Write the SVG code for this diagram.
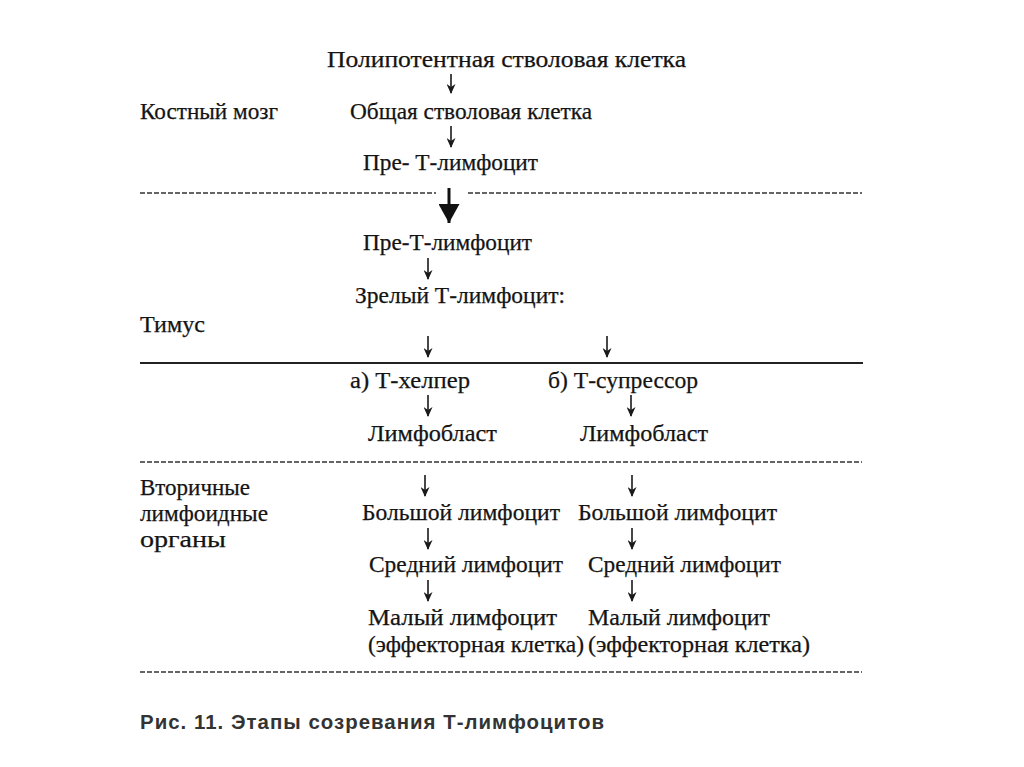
<svg xmlns="http://www.w3.org/2000/svg" width="1024" height="767" viewBox="0 0 1024 767">
<defs>
<style>
.t{font-family:"Liberation Serif","Times New Roman",serif;font-size:23px;fill:#141414;stroke:#141414;stroke-width:0.25}
.cap{font-family:"Liberation Sans",Arial,sans-serif;font-size:20px;font-weight:bold;fill:#333;letter-spacing:1px}
.dash{stroke:#333;stroke-width:1.6;stroke-dasharray:5 2;fill:none}
.solid{stroke:#222;stroke-width:2;fill:none}
.arr{stroke:#1a1a1a;stroke-width:1.6;fill:none;marker-end:url(#ah)}
</style>
<marker id="ah" viewBox="0 0 10 10" refX="9" refY="5" markerWidth="10" markerHeight="9" markerUnits="userSpaceOnUse" orient="auto" preserveAspectRatio="none">
<path d="M0,0 L10,5 L0,10 L3,5 Z" fill="#1a1a1a"/>
</marker>
<marker id="ahb" viewBox="0 0 10 10" refX="10" refY="5" markerWidth="19" markerHeight="21" markerUnits="userSpaceOnUse" orient="auto" preserveAspectRatio="none">
<path d="M0,0 L10,5 L0,10 Z" fill="#111"/>
</marker>
</defs>
<rect width="1024" height="767" fill="#ffffff"/>

<g id="lines">
<path class="dash" d="M140,193 H436 M468,193 H862"/>
<path class="solid" d="M140,363 H863"/>
<path class="dash" d="M140,462 H862"/>
<path class="dash" d="M140,672 H862"/>
</g>

<g id="zones">
<text class="t" x="140" y="119" textLength="138" lengthAdjust="spacingAndGlyphs">Костный мозг</text>
<text class="t" x="140" y="332" textLength="65" lengthAdjust="spacingAndGlyphs">Тимус</text>
<text class="t" x="140" y="495" textLength="110" lengthAdjust="spacingAndGlyphs">Вторичные</text>
<text class="t" x="140" y="521" textLength="128" lengthAdjust="spacingAndGlyphs">лимфоидные</text>
<text class="t" x="140" y="547" textLength="86" lengthAdjust="spacingAndGlyphs">органы</text>
</g>

<g id="n1"><text class="t" x="327" y="67" textLength="359" lengthAdjust="spacingAndGlyphs">Полипотентная стволовая клетка</text></g>
<g id="n2"><text class="t" x="350" y="119" textLength="242" lengthAdjust="spacingAndGlyphs">Общая стволовая клетка</text></g>
<g id="n3"><text class="t" x="363" y="170" textLength="175" lengthAdjust="spacingAndGlyphs">Пре- Т-лимфоцит</text></g>
<g id="n4"><text class="t" x="363" y="250" textLength="169" lengthAdjust="spacingAndGlyphs">Пре-Т-лимфоцит</text></g>
<g id="n5"><text class="t" x="355" y="303" textLength="210" lengthAdjust="spacingAndGlyphs">Зрелый Т-лимфоцит:</text></g>
<g id="n6a"><text class="t" x="350" y="388" textLength="120" lengthAdjust="spacingAndGlyphs">а) Т-хелпер</text></g>
<g id="n6b"><text class="t" x="548" y="388" textLength="150" lengthAdjust="spacingAndGlyphs">б) Т-супрессор</text></g>
<g id="n7a"><text class="t" x="368" y="441" textLength="129" lengthAdjust="spacingAndGlyphs">Лимфобласт</text></g>
<g id="n7b"><text class="t" x="580" y="441" textLength="128" lengthAdjust="spacingAndGlyphs">Лимфобласт</text></g>
<g id="n8a"><text class="t" x="362" y="520" textLength="198" lengthAdjust="spacingAndGlyphs">Большой лимфоцит</text></g>
<g id="n8b"><text class="t" x="578" y="520" textLength="199" lengthAdjust="spacingAndGlyphs">Большой лимфоцит</text></g>
<g id="n9a"><text class="t" x="369" y="572" textLength="194" lengthAdjust="spacingAndGlyphs">Средний лимфоцит</text></g>
<g id="n9b"><text class="t" x="588" y="572" textLength="193" lengthAdjust="spacingAndGlyphs">Средний лимфоцит</text></g>
<g id="n10a"><text class="t" x="368" y="625" textLength="189" lengthAdjust="spacingAndGlyphs">Малый лимфоцит</text><text class="t" x="368" y="652" textLength="216" lengthAdjust="spacingAndGlyphs">(эффекторная клетка)</text></g>
<g id="n10b"><text class="t" x="588" y="625" textLength="182" lengthAdjust="spacingAndGlyphs">Малый лимфоцит</text><text class="t" x="588" y="652" textLength="222" lengthAdjust="spacingAndGlyphs">(эффекторная клетка)</text></g>

<g id="connectors">
<line class="arr" x1="451" y1="74" x2="451" y2="93"/>
<line class="arr" x1="451" y1="126" x2="451" y2="147"/>
<line x1="449" y1="188" x2="449" y2="223" stroke="#111" stroke-width="3" marker-end="url(#ahb)"/>
<line class="arr" x1="428" y1="258" x2="428" y2="279"/>
<line class="arr" x1="428" y1="336" x2="428" y2="357"/>
<line class="arr" x1="607" y1="336" x2="607" y2="357"/>
<line class="arr" x1="428" y1="395" x2="428" y2="416"/>
<line class="arr" x1="631" y1="395" x2="631" y2="416"/>
<line class="arr" x1="425" y1="475" x2="425" y2="496"/>
<line class="arr" x1="632" y1="475" x2="632" y2="496"/>
<line class="arr" x1="428" y1="528" x2="428" y2="549"/>
<line class="arr" x1="632" y1="528" x2="632" y2="549"/>
<line class="arr" x1="428" y1="580" x2="428" y2="601"/>
<line class="arr" x1="632" y1="580" x2="632" y2="601"/>
</g>

<g id="caption"><text class="cap" x="140" y="729" textLength="465" lengthAdjust="spacingAndGlyphs">Рис. 11. Этапы созревания Т-лимфоцитов</text></g>
</svg>
